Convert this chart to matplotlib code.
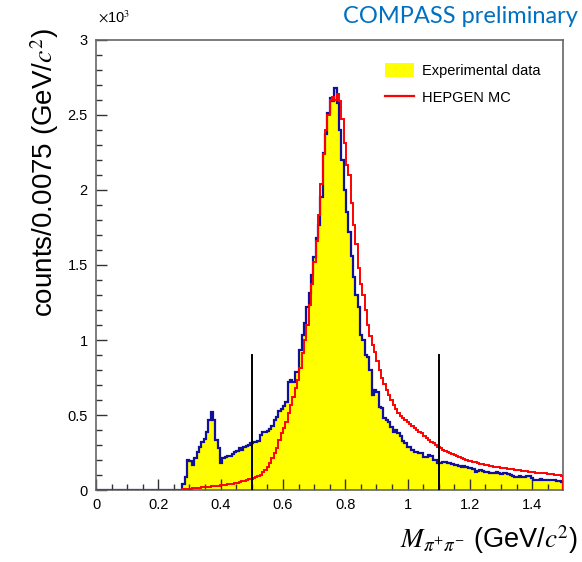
import matplotlib
matplotlib.use("Agg")
import matplotlib.pyplot as plt
import numpy as np
from matplotlib.patches import Patch
from matplotlib.lines import Line2D

plt.rcParams["font.family"] = ["Liberation Sans", "DejaVu Sans"]
plt.rcParams["mathtext.fontset"] = "stix"

# ── data: 200 bins of 0.0075 GeV/c^2 from 0 to 1.5 ─────────────────
X_MIN, X_MAX = 0.0, 1.5
N_BINS = 200

data_counts = [
    0, 0, 0, 0, 0, 0, 0, 0, 0, 0, 0, 0, 0, 0, 0, 0, 0, 0, 0, 0,
    0, 0, 0, 0, 0, 0, 0, 0, 0, 0, 0, 0, 0, 0, 0, 0, 0,
    40, 90, 200, 195, 167, 213, 253, 287, 320, 340, 387, 467, 520, 467, 333,
    280, 180, 213, 220, 227, 230, 240, 253, 260, 280, 267, 287, 293, 300, 313, 320,
    322, 330, 370, 386, 386, 395, 410, 430, 465, 490, 525, 540, 560, 590,
    722, 733, 722, 789, 789, 933,
    1033, 1111, 1220, 1310, 1430, 1550, 1680, 1769, 1950, 2247, 2370, 2513,
    2613, 2591, 2680, 2580, 2400, 2200, 2000, 1850, 1720, 1560, 1420, 1300,
    1222, 1033, 1000, 900, 889, 800, 633, 667, 656, 556, 544, 478, 467, 456,
    422, 389, 400, 378, 360,
    330, 311, 289, 289, 267, 256, 256, 244, 244, 222, 222, 233, 228, 200, 200,
    178, 178, 189, 189, 178, 178, 175, 167, 167, 160, 156, 158, 156, 150, 144,
    140, 122, 125, 133, 128, 122, 118, 111, 113, 116, 118, 111, 108, 113, 111,
    104, 100, 96, 89, 89, 93, 89, 89, 91, 93, 78, 70, 67, 70, 72, 70, 67, 67,
    70, 67, 64, 60, 58, 56,
]

mc_counts = [
    0, 0, 0, 0, 0, 0, 0, 0, 0, 0, 0, 0, 0, 0, 0, 0, 0, 0, 0, 0,
    0, 0, 0, 0, 0, 0, 0, 0, 0, 0, 0, 0, 0, 0, 0, 0, 0,
    4, 6, 8, 10, 12, 13, 15, 16, 18, 19, 21, 22, 24, 26, 28, 30, 32, 34, 36,
    38, 40, 43, 46, 50, 54, 58, 62, 67, 72, 77, 83,
    89, 95, 100, 122, 133, 156, 178, 211, 244, 278, 333, 378, 411, 456, 511,
    567, 622, 678, 733, 811,
    911, 1000, 1100, 1230, 1370, 1520, 1660, 1830, 2040, 2240, 2400, 2500,
    2600, 2620, 2600, 2640, 2590, 2470, 2313, 2169, 2100, 1913, 1769, 1640,
    1480, 1370, 1300, 1200, 1100, 1030, 970, 920, 860, 800, 750, 710, 667,
    633, 600, 570, 540, 515, 495,
    478, 466, 456, 440, 425, 411, 400, 388, 378, 360, 344, 333, 322, 311, 300,
    289, 278, 270, 263, 256, 248, 240, 233, 226, 219, 213, 206, 200, 196, 192,
    189, 185, 181, 177, 172, 168, 165, 162, 159, 157, 155, 152, 150, 148, 145,
    143, 140, 138, 136, 134, 132, 129, 127, 125, 122, 120, 118, 116, 114, 113,
    112, 111, 109, 107, 105, 103, 101, 99, 97,
]

cut_positions = [0.5, 1.1]
cut_height = 900

edges = np.linspace(X_MIN, X_MAX, N_BINS + 1)
data = np.array(data_counts, dtype=float)
mc = np.array(mc_counts, dtype=float)

# ── figure ──────────────────────────────────────────────────────────
fig = plt.figure(figsize=(5.82, 5.62), dpi=100)
ax = fig.add_axes([0.165, 0.128, 0.803, 0.801])

ax.stairs(data, edges, fill=True, color="#ffff00", zorder=1)
ax.stairs(data, edges, color="#10109a", linewidth=1.6, zorder=2)
ax.stairs(mc, edges, color="#ff0000", linewidth=1.4, zorder=3)
for xc in cut_positions:
    ax.plot([xc, xc], [0, cut_height], color="black", linewidth=1.4, zorder=4)

ax.set_xlim(X_MIN, X_MAX)
ax.set_ylim(0, 3000)

ax.set_xticks(np.arange(0, 1.41, 0.2))
ax.set_xticklabels(["0", "0.2", "0.4", "0.6", "0.8", "1", "1.2", "1.4"])
ax.set_xticks(np.arange(0, 1.5, 0.05), minor=True)
ax.set_yticks(np.arange(0, 3001, 500))
ax.set_yticklabels(["0", "0.5", "1", "1.5", "2", "2.5", "3"])
ax.set_yticks(np.arange(0, 3000, 100), minor=True)

ax.tick_params(which="both", direction="in", top=False, right=False,
               labelsize=10.5, color="#333333", pad=6)
ax.tick_params(which="major", length=8, width=1)
ax.tick_params(which="minor", length=4.5, width=1)
for sp in ax.spines.values():
    sp.set_color("#666666")
    sp.set_linewidth(1.2)

fig.text(0.168, 0.955, r"$\times$10$^{3}$", fontsize=10.5, ha="left", va="bottom")

fig.text(0.077, 0.95, "counts/0.0075 (GeV/$c^{2}$)", rotation=90,
         fontsize=20, ha="center", va="top")
fig.text(0.993, 0.04, r"$M_{\pi^{+}\pi^{-}}$ (GeV/$c^{2}$)",
         fontsize=19.5, ha="right", va="center")

fig.text(0.993, 0.97, "COMPASS preliminary", color="#0070c0",
         fontsize=17, ha="right", va="center", family=["Lato", "DejaVu Sans"])

handles = [Patch(facecolor="#ffff00", edgecolor="none"),
           Line2D([0], [0], color="#ff0000", linewidth=1.6)]
ax.legend(handles, ["Experimental data", "HEPGEN MC"], loc="upper left",
          bbox_to_anchor=(0.59, 0.978), frameon=False, fontsize=10.5,
          handlelength=2.0, handleheight=1.1, labelspacing=0.85,
          handletextpad=0.55)

fig.savefig("out.png", dpi=100)
